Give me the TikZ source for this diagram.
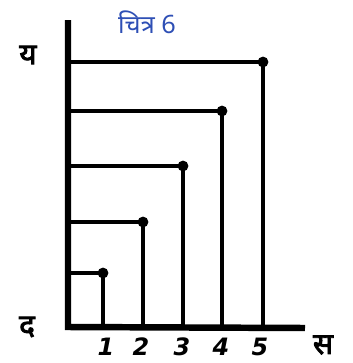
\documentclass[tikz,border=0pt]{standalone}
\usepackage{fontspec}
\newfontfamily\devfont[Script=Devanagari]{Noto Sans}
\newfontfamily\devboldfont[Script=Devanagari, FakeBold=3]{Noto Sans}
\newfontfamily\digitfont{DejaVu Sans}
\usetikzlibrary{positioning}
\definecolor{cTitle}{HTML}{2E4FB5}
\tikzset{
  axis/.style={line width=4.6pt},
  bar/.style={line width=3.4pt},
  corner/.style={circle, fill=black, inner sep=0pt, minimum size=0.27cm},
  axislabel/.style={font=\devboldfont\fontsize{21}{23}\selectfont},
  ticklabel/.style={font=\digitfont\bfseries\itshape\fontsize{17}{19}\selectfont},
  titlelabel/.style={font=\devfont\fontsize{18}{20}\selectfont, text=cTitle}
}

\begin{document}
\begin{tikzpicture}[x=0.025cm, y=-0.025cm]
  \useasboundingbox (0,0) rectangle (353,363);

  % axes
  \coordinate (o) at (68,327);
  \coordinate (ytop) at (68,20);
  \coordinate (xend) at (305,328);
  \draw[axis] (ytop) -- (o) -- (xend);

  % corner dots
  \node[corner] (d1) at (103,273) {};
  \node[corner] (d2) at (143,222) {};
  \node[corner] (d3) at (183,166) {};
  \node[corner] (d4) at (222,111) {};
  \node[corner] (d5) at (263,62) {};

  % L-shaped bars
  \draw[bar] (o |- d1) -- (d1.center) -- (o -| d1);
  \draw[bar] (o |- d2) -- (d2.center) -- (o -| d2);
  \draw[bar] (o |- d3) -- (d3.center) -- (o -| d3);
  \draw[bar] (o |- d4) -- (d4.center) -- (o -| d4);
  \draw[bar] (o |- d5) -- (d5.center) -- (o -| d5);

  % labels
  \node[titlelabel] (title) at (147,22) {चित्र 6};
  \node[axislabel] (ya) at (28,55) {य};
  \node[axislabel] (da) at (27,327) {द};
  \node[axislabel] (sa) at (323,345) {स};
  \node[ticklabel] (n1) at (106,347) {1};
  \node[ticklabel] (n2) at (141,347) {2};
  \node[ticklabel] (n3) at (182,347) {3};
  \node[ticklabel] (n4) at (221,347) {4};
  \node[ticklabel] (n5) at (260,347) {5};
\end{tikzpicture}
\end{document}
